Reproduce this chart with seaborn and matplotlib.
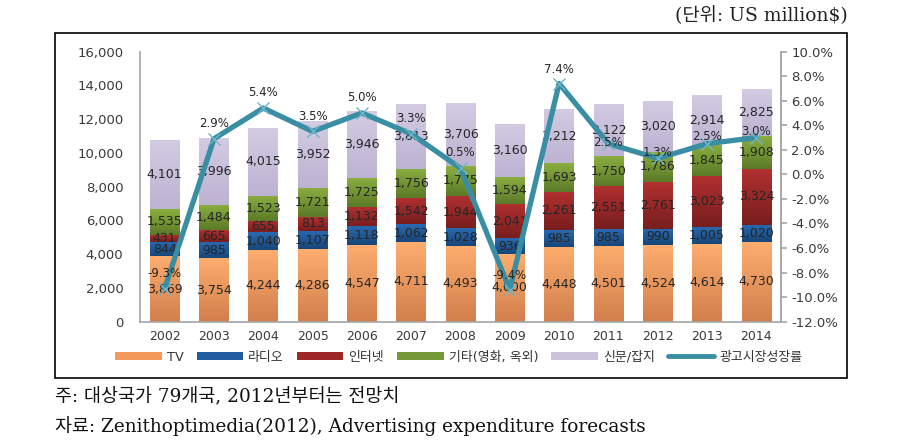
import numpy as np
import pandas as pd
import matplotlib
matplotlib.use("Agg")
import matplotlib.pyplot as plt
import seaborn as sns
from matplotlib.patches import Patch, Rectangle
from matplotlib.lines import Line2D
from matplotlib.colors import to_rgb

years = ["2002", "2003", "2004", "2005", "2006", "2007", "2008",
         "2009", "2010", "2011", "2012", "2013", "2014"]
tv = [3869, 3754, 4244, 4286, 4547, 4711, 4493, 4000, 4448, 4501, 4524, 4614, 4730]
radio = [844, 985, 1040, 1107, 1118, 1062, 1028, 936, 985, 985, 990, 1005, 1020]
internet = [431, 665, 655, 813, 1132, 1542, 1944, 2041, 2261, 2551, 2761, 3023, 3324]
other = [1535, 1484, 1523, 1721, 1725, 1756, 1775, 1594, 1693, 1750, 1786, 1845, 1908]
press = [4101, 3996, 4015, 3952, 3946, 3813, 3706, 3160, 3212, 3122, 3020, 2914, 2825]
growth = [-9.3, 2.9, 5.4, 3.5, 5.0, 3.3, 0.5, -9.4, 7.4, 2.5, 1.3, 2.5, 3.0]

series_names = ["TV", "라디오", "인터넷", "기타(영화, 옥외)", "신문/잡지"]
line_name = "광고시장성장률"

# styles
colors = ["#F39A5A", "#205C9E", "#9C2828", "#779838", "#CBC2DB"]
grad_top = ["#FDAD6E", "#2A69B0", "#B23030", "#8AAE40", "#D3CBE3"]
grad_bot = ["#D27F4C", "#174678", "#781E1E", "#5C7A28", "#BDB3D2"]
line_color = "#3A8EA4"
# vertical offset (points) of each growth-rate label above its point
label_offsets_pt = [11, 11, 11, 11, 11, 11, 11, 10, 10, 1, 4, 5, 4]

sns.set_theme(style="white")
plt.rcParams["font.family"] = ["DejaVu Sans", "Noto Sans CJK KR"]

fig = plt.figure(figsize=(9.19, 4.48), dpi=100)
ax = fig.add_axes([140 / 919, 1 - 321.7 / 448, (781 - 140) / 919, (321.7 - 51.6) / 448])

layers = [tv, radio, internet, other, press]
cum = np.cumsum(np.array(layers), axis=0)
bottoms = np.vstack([np.zeros(len(years)), cum[:-1]])
df = pd.DataFrame({"year": years})
layer_patches = {}
for i in range(len(layers) - 1, -1, -1):
    df["top"] = cum[i]
    n_before = len(ax.patches)
    sns.barplot(data=df, x="year", y="top", color=colors[i], width=0.6,
                saturation=1, ax=ax, edgecolor="none")
    layer_patches[i] = ax.patches[n_before:]

ax.set_ylim(0, 16000)
ax.set_xlim(-0.5, len(years) - 0.5)

# vertical gradient on each visible segment, clipped to seaborn's bar
for i in range(len(layers)):
    c_top = np.array(to_rgb(grad_top[i]))
    c_bot = np.array(to_rgb(grad_bot[i]))
    t = np.linspace(0, 1, 64)[:, None]
    grad = (c_top * (1 - t) + c_bot * t)[:, None, :]
    for j, p in enumerate(layer_patches[i]):
        x0 = p.get_x()
        x1 = x0 + p.get_width()
        im = ax.imshow(grad, extent=(x0, x1, bottoms[i][j], cum[i][j]),
                       aspect="auto", zorder=p.get_zorder() + 0.01 * (i + 1),
                       interpolation="bilinear")
        im.set_clip_path(p)

ax.set_ylim(0, 16000)
ax.set_xlim(-0.5, len(years) - 0.5)

# segment labels
for i, vals in enumerate(layers):
    for j, v in enumerate(vals):
        ax.text(j, bottoms[i][j] + v / 2, f"{v:,}", ha="center", va="center",
                fontsize=9, color="#262626", zorder=5)

ax.set_yticks(np.arange(0, 16001, 2000))
ax.set_yticklabels([f"{int(t):,}" for t in np.arange(0, 16001, 2000)])
ax.set_xlabel("")
ax.set_ylabel("")
ax.tick_params(axis="y", labelsize=9.5, colors="#3a3a3a", length=0, pad=12)
ax.tick_params(axis="x", labelsize=9, colors="#3a3a3a", length=0, pad=6)
ax.spines["top"].set_visible(False)
for s in ["left", "bottom", "right"]:
    ax.spines[s].set_color("#A8A8A8")

ax2 = ax.twinx()
ax2.set_position(ax.get_position())
ldf = pd.DataFrame({"x": np.arange(len(years)), "g": growth})
sns.lineplot(data=ldf, x="x", y="g", ax=ax2, color=line_color, linewidth=3.8,
             marker="x", markersize=8, markeredgewidth=1.0,
             markeredgecolor="#6FB5C8")
for j, g in enumerate(growth):
    ax2.annotate(f"{g:.1f}%", (j, g), xytext=(0, label_offsets_pt[j]),
                 textcoords="offset points", ha="center", va="center",
                 fontsize=8.5, color="#262626")
ax2.set_ylim(-12, 10)
ax2.set_yticks(np.arange(-12, 10.1, 2))
ax2.set_yticklabels([f"{t:.1f}%" for t in np.arange(-12, 10.1, 2)])
ax2.set_ylabel("")
ax2.set_xlabel("")
ax2.set_xlim(-0.5, len(years) - 0.5)
ax2.tick_params(axis="y", labelsize=9.5, colors="#3a3a3a", length=4,
                direction="out", color="#A8A8A8")
ax2.spines["top"].set_visible(False)
ax2.spines["left"].set_visible(False)
ax2.spines["bottom"].set_visible(False)
ax2.spines["right"].set_color("#A8A8A8")

handles = [Patch(facecolor=c, edgecolor="none") for c in colors]
handles.append(Line2D([0], [0], color=line_color, linewidth=3.5))
fig.legend(handles, series_names + [line_name], loc="center",
           bbox_to_anchor=(459 / 919, 1 - 357 / 448), ncol=6, frameon=False,
           fontsize=9.3, handlelength=3.6, handleheight=0.55, columnspacing=1.0,
           handletextpad=0.4, labelcolor="#333333")

# outer frame
fig.patches.append(Rectangle((55 / 919, 1 - 378 / 448), (847 - 55) / 919, (378 - 33) / 448,
                             transform=fig.transFigure, fill=False, edgecolor="black",
                             linewidth=1.2))

serif_kr = ["DejaVu Serif", "Noto Sans CJK KR"]
fig.text(848 / 919, 1 - 16 / 448, "(단위: US million$)", ha="right", va="center",
         fontsize=13.5, family=serif_kr, color="#222222")
fig.text(55 / 919, 1 - 396 / 448, "주: 대상국가 79개국, 2012년부터는 전망치", ha="left",
         va="center", fontsize=13.3, family=serif_kr, color="#111111")
fig.text(55 / 919, 1 - 426 / 448,
         "자료: Zenithoptimedia(2012), Advertising expenditure forecasts", ha="left",
         va="center", fontsize=13.3, family=serif_kr, color="#111111")

fig.savefig("out.png", dpi=100)
